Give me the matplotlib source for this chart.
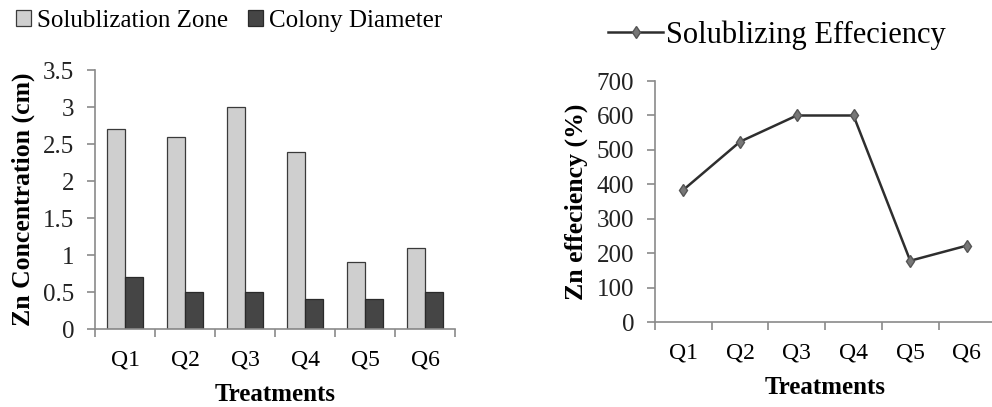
import matplotlib.pyplot as plt
import numpy as np

plt.rcParams['font.family'] = ['Liberation Serif', 'DejaVu Serif']

treatments = ['Q1', 'Q2', 'Q3', 'Q4', 'Q5', 'Q6']
zone = [2.7, 2.6, 3.0, 2.4, 0.9, 1.1]
colony = [0.7, 0.5, 0.5, 0.4, 0.4, 0.5]
efficiency = [384, 524, 600, 600, 178, 222]

axis_col = '#8a8a8a'


def style_axes(ax):
    for side in ('top', 'right'):
        ax.spines[side].set_visible(False)
    for side in ('left', 'bottom'):
        ax.spines[side].set_color(axis_col)
        ax.spines[side].set_linewidth(1.2)
    ax.tick_params(colors=axis_col, labelcolor='#222222', length=6, width=1.2, pad=9)


fig = plt.figure(figsize=(9.92, 4.07), dpi=100)

# bar chart: zone vs colony diameter
ax1 = fig.add_axes([0.0958, 0.1916, 0.363, 0.636])
x = np.arange(len(treatments))
w = 0.3
ax1.bar(x - w / 2, zone, w, color='#cfcfcf', edgecolor='#3a3a3a', linewidth=0.9,
        label='Solublization Zone')
ax1.bar(x + w / 2, colony, w, color='#454545', edgecolor='#2a2a2a', linewidth=0.9,
        label='Colony Diameter')
ax1.set_xlim(-0.5, 5.5)
ax1.set_ylim(0, 3.5)
ax1.set_yticks(np.arange(0, 3.51, 0.5))
ax1.set_yticklabels(['0', '0.5', '1', '1.5', '2', '2.5', '3', '3.5'], fontsize=18)
ax1.set_xticks(np.arange(-0.5, 5.6, 1))
ax1.set_xticklabels([])
ax1.set_xticks(x, minor=True)
ax1.set_xticklabels(treatments, minor=True, fontsize=17)
style_axes(ax1)
ax1.tick_params(axis='x', which='minor', length=0, pad=15)
ax1.set_xlabel('Treatments', fontsize=18, fontweight='bold', labelpad=9)
ax1.set_ylabel('Zn Concentration (cm)', fontsize=18.5, fontweight='bold', labelpad=6)
ax1.legend(loc='center left', bbox_to_anchor=(-0.248, 1.19), ncol=2, frameon=False,
           fontsize=18, handlelength=0.6, handleheight=0.6, handletextpad=0.25,
           columnspacing=0.8, borderaxespad=0)

# line chart: solubilizing efficiency
ax2 = fig.add_axes([0.6603, 0.2088, 0.343, 0.592])
ax2.plot(x, efficiency, color='#2e2e2e', linewidth=1.8, marker='d', markersize=6,
         markerfacecolor='#777777', markeredgecolor='#555555',
         label='Solublizing Effeciency')
ax2.set_xlim(-0.5, 5.5)
ax2.set_ylim(0, 700)
ax2.set_yticks(np.arange(0, 701, 100))
ax2.set_xticks(np.arange(-0.5, 5.6, 1))
ax2.set_xticklabels([])
ax2.set_xticks(x, minor=True)
ax2.set_xticklabels(treatments, minor=True, fontsize=17)
style_axes(ax2)
ax2.tick_params(axis='y', labelsize=18)
ax2.tick_params(axis='x', which='minor', length=0, pad=15)
ax2.set_xlabel('Treatments', fontsize=18, fontweight='bold', labelpad=8.5)
ax2.set_ylabel('Zn effeciency (%)', fontsize=18.5, fontweight='bold', labelpad=6)
ax2.legend(loc='center left', bbox_to_anchor=(-0.173, 1.19), frameon=False,
           fontsize=22, handlelength=1.8, handletextpad=0.1, borderaxespad=0)

fig.savefig('out.png', dpi=100)
